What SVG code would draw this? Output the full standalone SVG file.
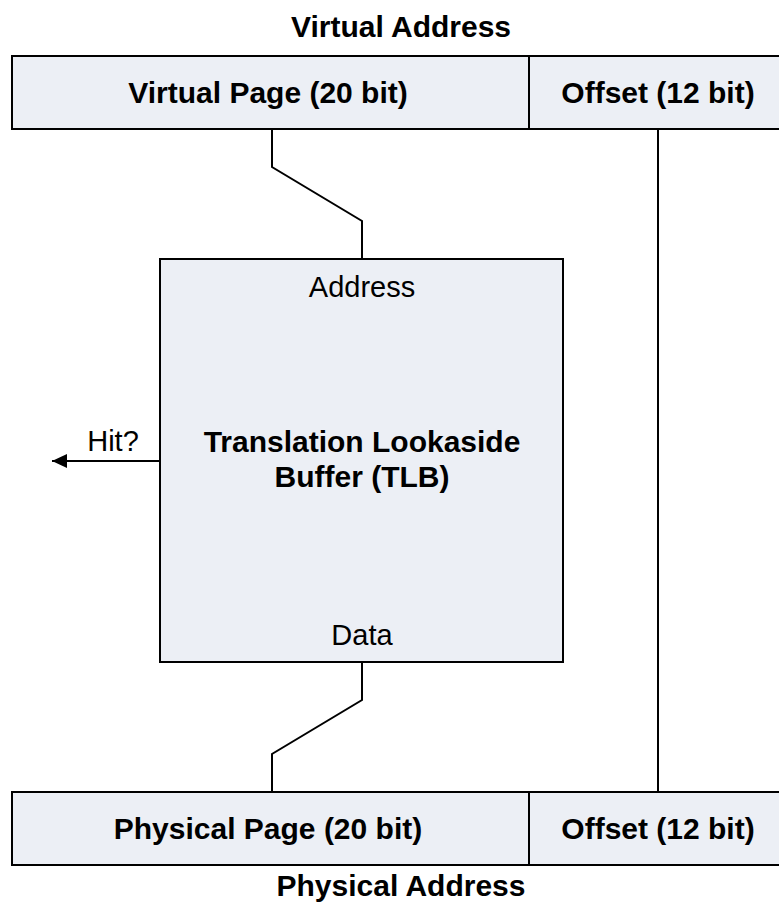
<svg xmlns="http://www.w3.org/2000/svg" width="779" height="909" viewBox="0 0 779 909">
<defs>
<style>
.box{fill:#ECEFF5;stroke:#000;stroke-width:2}
.ln{fill:none;stroke:#000;stroke-width:2}
.b{font-family:"Liberation Sans",Arial,sans-serif;font-weight:bold;font-size:30px;text-anchor:middle;fill:#000}
.r{font-family:"Liberation Sans",Arial,sans-serif;font-size:29px;text-anchor:middle;fill:#000}
</style>
<marker id="arr" markerUnits="userSpaceOnUse" markerWidth="16" markerHeight="16" refX="15" refY="7" orient="auto">
<path d="M0,0 L15,7 L0,14 Z" fill="#000"/>
</marker>
</defs>
<rect width="779" height="909" fill="#fff"/>
<g id="connectors">
<path class="ln" d="M272,129 V167 L362,221 V259"/>
<path class="ln" d="M362,662 V700 L272,754 V792"/>
<path class="ln" d="M658,129 V792"/>
<path class="ln" d="M160,461 H52" marker-end="url(#arr)"/>
</g>
<g id="virtual-address">
<text class="b" x="401" y="37">Virtual Address</text>
<rect class="box" x="12" y="56" width="790" height="73"/>
<line class="ln" x1="529" y1="56" x2="529" y2="129"/>
<text class="b" x="268" y="103">Virtual Page (20 bit)</text>
<text class="b" x="658" y="103">Offset (12 bit)</text>
</g>
<g id="tlb">
<rect class="box" x="160" y="259" width="403" height="403"/>
<text class="r" x="362" y="297">Address</text>
<text class="b" x="362" y="452">Translation Lookaside</text>
<text class="b" x="362" y="487">Buffer (TLB)</text>
<text class="r" x="362" y="645">Data</text>
<text class="r" x="113" y="451">Hit?</text>
</g>
<g id="physical-address">
<rect class="box" x="12" y="792" width="790" height="73"/>
<line class="ln" x1="529" y1="792" x2="529" y2="865"/>
<text class="b" x="268" y="839">Physical Page (20 bit)</text>
<text class="b" x="658" y="839">Offset (12 bit)</text>
<text class="b" x="401" y="896">Physical Address</text>
</g>
</svg>
